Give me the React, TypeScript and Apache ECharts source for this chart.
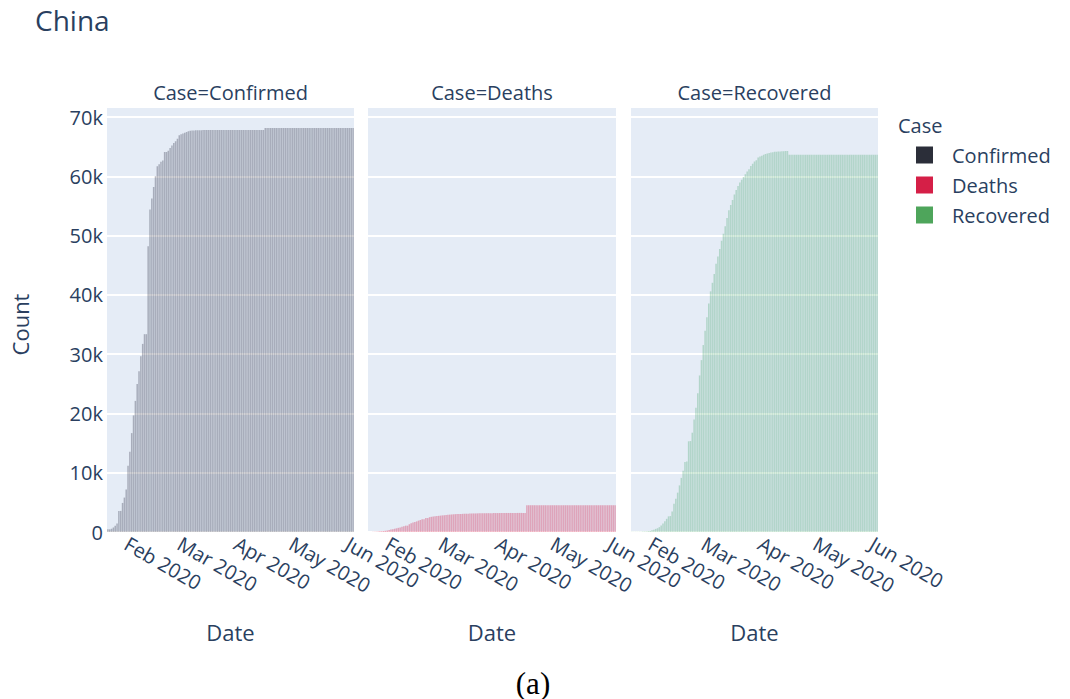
import React, { useEffect, useRef } from "react";
import * as echarts from "echarts";

// Daily cumulative counts, 22 Jan 2020 .. 4 Jun 2020
const startDate = "2020-01-22";

const confirmed = [
  444, 444, 549, 761, 1058, 1423, 3554, 3554, 4903, 5806,
  7153, 11177, 13522, 16678, 19665, 22112, 24953, 27100, 29631, 31728,
  33366, 33366, 48206, 54406, 56249, 58182, 59989, 61682, 62031, 62442,
  62662, 64084, 64084, 64287, 64786, 65187, 65596, 65914, 66337,
  66907, 67103, 67217, 67332, 67466, 67592, 67666, 67707, 67743, 67760,
  67773, 67781, 67786, 67790, 67794, 67798, 67799, 67800, 67800, 67800,
  67800, 67800, 67800, 67801, 67801, 67801, 67801, 67801, 67801, 67801, 67802,
  67802, 67802, 67802, 67803, 67803, 67803, 67803, 67803, 67803, 67803,
  67803, 67803, 67803, 67803, 67803, 67803, 68128, 68128, 68128, 68128,
  68128, 68128, 68128, 68128, 68128, 68128, 68128, 68128, 68128, 68128,
  68128, 68128, 68128, 68128, 68128, 68128, 68128, 68128, 68128, 68128,
  68134, 68134, 68134, 68134, 68134, 68134, 68134, 68134, 68134, 68134,
  68134, 68134, 68134, 68134, 68134, 68134, 68134, 68134, 68134, 68134, 68134,
  68134, 68134, 68134, 68134,
];

const deaths = [
  17, 17, 24, 40, 52, 76, 125, 125, 162, 204,
  249, 350, 414, 479, 549, 618, 699, 780, 871, 974,
  1068, 1068, 1310, 1457, 1596, 1696, 1789, 1921, 2029, 2144,
  2144, 2346, 2346, 2495, 2563, 2615, 2641, 2682, 2727,
  2761, 2803, 2835, 2871, 2902, 2931, 2959, 2986, 3008, 3024,
  3046, 3056, 3062, 3075, 3085, 3099, 3111, 3122, 3130, 3133,
  3139, 3153, 3153, 3160, 3163, 3169, 3174, 3177, 3182, 3186, 3187,
  3193, 3199, 3203, 3207, 3210, 3212, 3212, 3213, 3215, 3216,
  3219, 3219, 3219, 3221, 3222, 3222, 4512, 4512, 4512, 4512,
  4512, 4512, 4512, 4512, 4512, 4512, 4512, 4512, 4512, 4512,
  4512, 4512, 4512, 4512, 4512, 4512, 4512, 4512, 4512, 4512,
  4512, 4512, 4512, 4512, 4512, 4512, 4512, 4512, 4512, 4512,
  4512, 4512, 4512, 4512, 4512, 4512, 4512, 4512, 4512, 4512, 4512,
  4512, 4512, 4512, 4512,
];

const recovered = [
  28, 28, 31, 32, 42, 45, 80, 88, 90, 141,
  168, 295, 386, 522, 633, 817, 1115, 1439, 1795, 2222,
  2639, 2686, 3459, 4774, 5623, 6639, 7862, 9128, 10337, 11788,
  11881, 15299, 15343, 16748, 18971, 20969, 23383, 26403, 28993,
  31536, 33934, 36208, 38557, 40592, 42033, 43500, 45235, 46488, 47743,
  49134, 50318, 51553, 52960, 54288, 55142, 56003, 56927, 57682, 58382,
  58946, 59433, 59882, 60324, 60811, 61201, 61732, 62098, 62494, 62718, 63153,
  63326, 63471, 63612, 63762, 63845, 63945, 64014, 64073, 64118, 64151,
  64165, 64187, 64207, 64236, 64260, 64281, 63616, 63616, 63616, 63616,
  63616, 63616, 63616, 63616, 63616, 63616, 63616, 63616, 63616, 63616,
  63616, 63616, 63616, 63616, 63616, 63616, 63616, 63616, 63616, 63616,
  63616, 63616, 63616, 63616, 63623, 63623, 63623, 63623, 63623, 63623,
  63623, 63623, 63623, 63623, 63623, 63623, 63623, 63623, 63623, 63623, 63623,
  63623, 63623, 63623, 63623,
];

const caseNames = ["Confirmed", "Deaths", "Recovered"];
const legendColors = ["#2b2e39", "#d51f47", "#4ea55b"];
const barColors = ["rgba(50,53,72,0.34)", "rgba(212,35,80,0.36)", "rgba(70,165,110,0.32)"];
const yTicks = [0, 10000, 20000, 30000, 40000, 50000, 60000, 70000];
const monthNames = ["Jan", "Feb", "Mar", "Apr", "May", "Jun", "Jul"];

const seriesData = [confirmed, deaths, recovered];

function buildDates(n: number): string[] {
  const t0 = Date.parse(startDate + "T00:00:00Z");
  const out: string[] = [];
  for (let i = 0; i < n; i++) {
    out.push(new Date(t0 + i * 86400000).toISOString().slice(0, 10));
  }
  return out;
}

const FONT = "'Open Sans', 'DejaVu Sans', sans-serif";
const TXT = "#2a3f5f";

export default function App() {
  const ref = useRef<HTMLDivElement>(null);

  useEffect(() => {
    if (!ref.current) return;
    const chart = echarts.init(ref.current, undefined, { renderer: "svg" });
    const dates = buildDates(confirmed.length);

    const panels = [
      { left: 107, width: 247 },
      { left: 368, width: 248 },
      { left: 631, width: 247 },
    ];
    const top70 = 117;
    const zeroY = 532;
    const plotTop = 108;

    const grids = panels.map((p) => ({
      left: p.left,
      top: top70,
      width: p.width,
      height: zeroY - top70,
      show: true,
      backgroundColor: "#E5ECF6",
      borderWidth: 0,
      containLabel: false,
    }));

    const xAxes = panels.map((_, i) => ({
      type: "category",
      gridIndex: i,
      data: dates,
      boundaryGap: true,
      axisLine: { show: false },
      axisTick: { show: false },
      splitLine: { show: false },
      axisLabel: {
        interval: (_idx: number, val: string) => val.slice(8, 10) === "01",
        formatter: (val: string) => `${monthNames[parseInt(val.slice(5, 7), 10) - 1]} ${val.slice(0, 4)}`,
        rotate: -30,
        fontSize: 20,
        fontFamily: FONT,
        color: TXT,
        margin: 10,
      },
      name: "Date",
      nameLocation: "middle",
      nameGap: 89,
      nameTextStyle: { fontSize: 22, fontFamily: FONT, color: TXT },
    }));

    const yAxes = panels.map((_, i) => ({
      type: "value",
      gridIndex: i,
      min: yTicks[0],
      max: yTicks[yTicks.length - 1],
      interval: yTicks[1] - yTicks[0],
      axisLine: { show: false },
      axisTick: { show: false },
      splitLine: { show: true, lineStyle: { color: "#ffffff", width: 2 } },
      axisLabel: {
        show: i === 0,
        fontSize: 20,
        fontFamily: FONT,
        color: TXT,
        margin: 4,
        formatter: (v: number) => (v === 0 ? "0" : `${v / 1000}k`),
      },
      name: i === 0 ? "Count" : "",
      nameLocation: "middle",
      nameRotate: 90,
      nameGap: 76,
      nameTextStyle: { fontSize: 22, fontFamily: FONT, color: TXT },
    }));

    const series = caseNames.map((name, i) => ({
      name,
      type: "bar",
      xAxisIndex: i,
      yAxisIndex: i,
      data: seriesData[i],
      barCategoryGap: "18%",
      itemStyle: { color: barColors[i] },
      emphasis: { disabled: true },
    }));

    const graphics: any[] = [];
    panels.forEach((p, i) => {
      graphics.push({
        type: "rect",
        shape: { x: p.left, y: plotTop, width: p.width, height: top70 - plotTop },
        style: { fill: "#E5ECF6" },
        silent: true,
      });
      graphics.push({
        type: "text",
        x: p.left + p.width / 2,
        y: 92,
        style: {
          text: `Case=${caseNames[i]}`,
          fontSize: 20,
          fontFamily: FONT,
          fill: TXT,
          align: "center",
          verticalAlign: "middle",
        },
      });
    });
    graphics.push({
      type: "text",
      x: 898,
      y: 125,
      style: {
        text: "Case",
        fontSize: 20,
        fontFamily: FONT,
        fill: TXT,
        align: "left",
        verticalAlign: "middle",
      },
    });
    graphics.push({
      type: "text",
      x: 533,
      y: 683,
      style: {
        text: "(a)",
        fontSize: 31,
        fontFamily: "'Liberation Serif', 'DejaVu Serif', serif",
        fill: "#000000",
        align: "center",
        verticalAlign: "middle",
      },
    });

    chart.setOption({
      animation: false,
      backgroundColor: "#ffffff",
      title: {
        text: "China",
        left: 30,
        top: 1,
        textStyle: { fontSize: 28, fontWeight: "normal", fontFamily: FONT, color: TXT },
      },
      legend: {
        orient: "vertical",
        left: 911,
        top: 140,
        itemWidth: 17,
        itemHeight: 17,
        itemGap: 10,
        icon: "rect",
        selectedMode: false,
        textStyle: { fontSize: 20, fontFamily: FONT, color: TXT, lineHeight: 20, padding: [0, 0, 0, 14] },
        data: caseNames.map((n, i) => ({ name: n, itemStyle: { color: legendColors[i], opacity: 1 } })),
      },
      grid: grids,
      xAxis: xAxes,
      yAxis: yAxes,
      series,
      graphic: graphics,
    });

    return () => chart.dispose();
  }, []);

  return (
    <div
      ref={ref}
      style={{ position: "fixed", left: 0, top: 0, width: 1070, height: 699, background: "#fff" }}
    />
  );
}
